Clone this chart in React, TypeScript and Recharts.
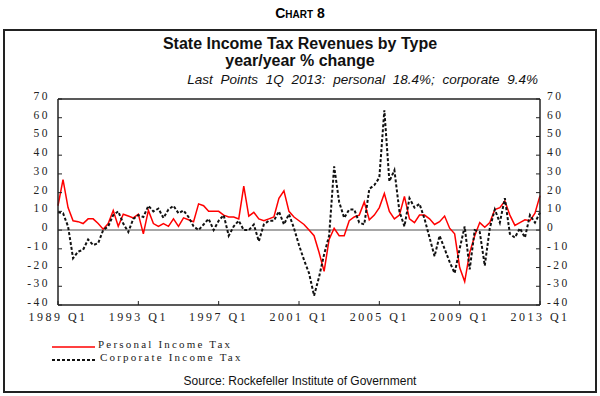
import React from "react";
import { LineChart, Line, XAxis, YAxis, ReferenceLine } from "recharts";

// quarterly year/year % change, 1989 Q1 .. 2013 Q1
const years = [1989, 1990, 1991, 1992, 1993, 1994, 1995, 1996, 1997, 1998, 1999, 2000, 2001, 2002, 2003, 2004, 2005, 2006, 2007, 2008, 2009, 2010, 2011, 2012, 2013];
const quarterNames = ["Q1", "Q2", "Q3", "Q4"];
const quarters: string[] = [];
years.forEach((y) => quarterNames.forEach((q) => quarters.push(`${y} ${q}`)));
quarters.length = 97;

const personal = [
  13, 27, 12, 5, 4.5, 3.5, 6, 6, 3.5, 0.5, 3.5, 10.5, 2, 8.5, 7.5, 6.5,
  8.5, -2, 10.5, 3.5, 2, 3.5, 2, 6, 2, 6.5, 5.5, 4.5, 14, 13, 10, 10,
  10, 8, 7, 7, 6, 23.5, 7.5, 9.5, 6, 5, 6, 7, 17, 21, 10, 7,
  5, 3, 0, -3, -12, -22, -5, 1, -3, -3, 5, 7, 8, 15, 5.5, 8,
  12, 19.5, 10, 6, 8, 18, 6, 4, 8, 8, 6, 3, 4.5, 7.5, 1, -2,
  -20, -27.5, -12, -3, 4, 1.5, 4, 11, 12, 15.5, 8, 2.5, 4, 5.5, 5, 9,
  18.4,
];

const corporate = [
  9.5, 9, 2, -15, -11.5, -10.5, -5, -8, -7, 0, 2, 8, 10, 3.5, -1, 6,
  8, 7, 13, 10, 11.5, 6.5, 11, 13, 9, 10.5, 7, 2, 0, 3, 6, 0,
  5, 8, -3, 2, 5, 0, 0, 3, -6, 3, 5, 5, 10, 3, 8.5, 1,
  -8, -16, -23, -35, -25, -13, -3, 34, 15, 6.5, 11, 11, 4, 3, 22, 24,
  28, 64, 26, 32, 10, 2, 17, 12, 14, 6, -4, -14, -3, -10, -17, -23,
  -10, 2, -21, 0, -1, -19, 1, 11, 4, 17, -2, -4, 1, -4, 8, 4,
  9.4,
];

const yTicks = [-40, -30, -20, -10, 0, 10, 20, 30, 40, 50, 60, 70];

const data = quarters.map((q, i) => ({ q, personal: personal[i], corporate: corporate[i] }));

const serif = "'Liberation Serif', 'DejaVu Serif', serif";
const sans = "'Liberation Sans', Arial, sans-serif";
const tickStyle = { fontSize: 12, fill: "#222", fontFamily: serif, letterSpacing: 2.5 };

// value labels sit a little above their tick, as in the source chart
const YTick = ({ x, y, payload, anchor }: any) => (
  <text x={x} y={y - 3} dy="0.35em" textAnchor={anchor} {...tickStyle} fontSize={11.5}>
    {payload.value}
  </text>
);

const App = () => {
  return (
    <div style={{ position: "absolute", left: 0, top: 0, width: 600, height: 396, background: "#fff", fontFamily: sans }}>
      <div style={{ position: "absolute", left: 0, top: 5, width: 600, textAlign: "center", fontSize: 14, fontWeight: "bold", fontVariant: "small-caps" }}>
        Chart 8
      </div>
      <div style={{ position: "absolute", left: 3, top: 29, width: 590, height: 360, border: "2px solid #222" }} />
      <div style={{ position: "absolute", left: 0, top: 35, width: 600, textAlign: "center", fontSize: 16, fontWeight: "bold", lineHeight: "17px", color: "#111" }}>
        State Income Tax Revenues by Type
        <br />
        year/year % change
      </div>
      <div style={{ position: "absolute", left: 0, top: 72, width: 538, textAlign: "right", fontSize: 13.5, fontStyle: "italic", wordSpacing: 4, color: "#111" }}>
        Last Points 1Q 2013: personal 18.4%; corporate 9.4%
      </div>

      <div style={{ position: "absolute", left: 0, top: 0 }}>
        <LineChart width={600} height={396} data={data} margin={{ top: 99, right: 20, bottom: 71, left: 18 }}>
          <XAxis
            dataKey="q"
            interval={15}
            height={20}
            tickSize={-4}
            tickMargin={11}
            tick={tickStyle}
            axisLine={{ stroke: "#222", strokeWidth: 1.5 }}
            tickLine={{ stroke: "#222" }}
          />
          <YAxis
            yAxisId="left"
            domain={[-40, 70]}
            ticks={yTicks}
            interval={0}
            width={40}
            tickSize={-4}
            tickMargin={12}
            tick={<YTick anchor="end" />}
            axisLine={{ stroke: "#222", strokeWidth: 1.5 }}
            tickLine={{ stroke: "#222" }}
          />
          <YAxis
            yAxisId="right"
            orientation="right"
            domain={[-40, 70]}
            ticks={yTicks}
            interval={0}
            width={40}
            tickSize={-4}
            tickMargin={11}
            tick={<YTick anchor="start" />}
            axisLine={{ stroke: "#222", strokeWidth: 1.5 }}
            tickLine={{ stroke: "#222" }}
          />
          <ReferenceLine yAxisId="left" y={70} stroke="#222" strokeWidth={1.5} />
          <ReferenceLine yAxisId="left" y={0} stroke="#8a8a8a" strokeWidth={1.5} />
          <Line
            yAxisId="left"
            type="linear"
            dataKey="personal"
            stroke="#ff0000"
            strokeWidth={1.5}
            dot={false}
            isAnimationActive={false}
          />
          <Line
            yAxisId="right"
            type="linear"
            dataKey="corporate"
            stroke="#111"
            strokeWidth={2}
            strokeDasharray="3 2"
            dot={false}
            isAnimationActive={false}
          />
        </LineChart>
      </div>

      {/* legend */}
      <div style={{ position: "absolute", left: 52, top: 338, fontFamily: serif, fontSize: 11, letterSpacing: 2.2, color: "#222", lineHeight: "13px" }}>
        <div style={{ display: "flex", alignItems: "center" }}>
          <svg width={46} height={8}>
            <line x1={0} y1={6} x2={43} y2={6} stroke="#ff0000" strokeWidth={1.5} />
          </svg>
          <span>Personal Income Tax</span>
        </div>
        <div style={{ display: "flex", alignItems: "center" }}>
          <svg width={48} height={8}>
            <line x1={0} y1={6} x2={45} y2={6} stroke="#111" strokeWidth={2} strokeDasharray="3 2" />
          </svg>
          <span>Corporate Income Tax</span>
        </div>
      </div>

      <div style={{ position: "absolute", left: 0, top: 374, width: 600, textAlign: "center", fontSize: 12, color: "#111" }}>
        Source: Rockefeller Institute of Government
      </div>
    </div>
  );
};

export default App;
